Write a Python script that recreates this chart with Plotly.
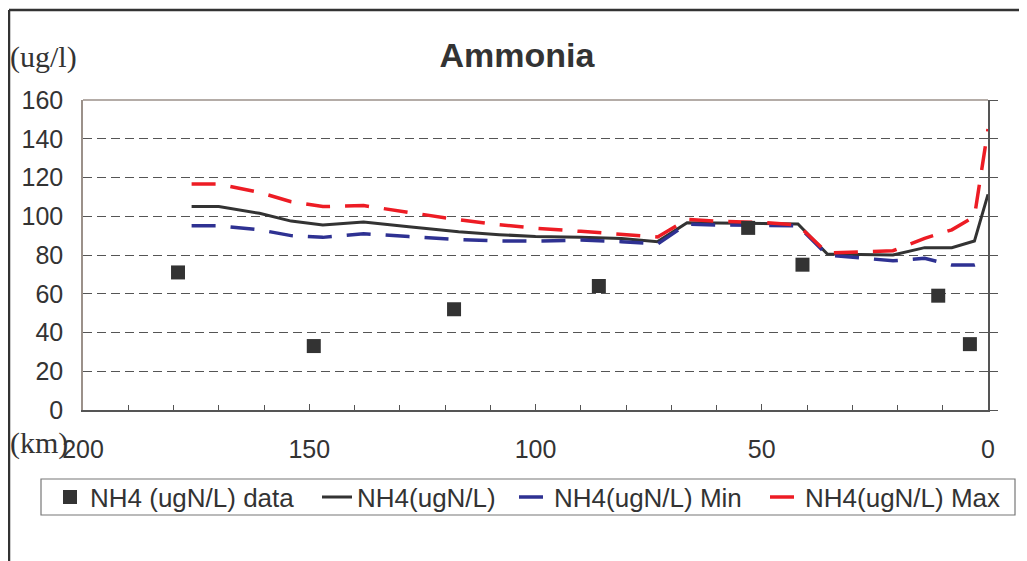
"""Ammonia longitudinal profile: measured NH4 vs model mean / min / max."""

import plotly.graph_objects as go

# distance from river mouth (km) and measured NH4 (ug/l)
km_data = [179, 149, 118, 86, 53, 41, 11, 4]
nh4_data = [71, 33, 52, 64, 94, 75, 59, 34]

# model output along the river
km_model = [176, 170, 161, 154, 147, 138, 128, 117, 108, 100, 90, 81, 73,
            66.5, 60, 50, 42, 35.5, 28, 21, 14, 8, 3, 0]
nh4_mean = [105, 105, 101.5, 97.5, 95.5, 97, 94.6, 92, 90.5, 89.5, 89.2, 88.5, 86.9,
            96.7, 96.5, 96.2, 96, 80.5, 80.2, 80, 83.8, 83.8, 87.2, 111.3]
nh4_min = [95.1, 95.1, 93, 90, 89.1, 91, 89.5, 88, 87.3, 87.2, 87.7, 86.9, 85.7,
           96, 95.5, 95.3, 95.1, 80, 78.3, 77, 78.3, 74.8, 74.8, 77]
nh4_max = [116.6, 116.6, 112.3, 107.5, 105, 105.5, 102, 98.2, 95.6, 93.8, 92.2, 90.6, 89.3,
           98.4, 97.5, 96.8, 95.5, 81, 81.5, 82.2, 88.6, 93, 99.8, 145]

# the page puts the figure 8px in from the top-left corner of the window
PAGE = 8
W, H = 1027 - PAGE, 561 - PAGE
L, R, T, B = 83 - PAGE, 39, 100 - PAGE, 151
PW, PH = W - L - R, H - T - B


def px_x(px):
    # window pixel -> paper x
    return (px - PAGE - L) / PW


def px_y(py):
    # window pixel -> paper y
    return (H + PAGE - B - py) / PH


TXT = "#333333"
SANS = "Liberation Sans, Arial, sans-serif"
SERIF = "Liberation Serif, Times New Roman, serif"

fig = go.Figure()
fig.add_trace(go.Scatter(
    x=km_data, y=nh4_data, mode="markers", name="NH4 (ugN/L) data",
    marker=dict(symbol="square", size=14, color="#333333"), yaxis="y2",
    legendwidth=222,
))
fig.add_trace(go.Scatter(
    x=km_model, y=nh4_mean, mode="lines", name="NH4(ugN/L)",
    line=dict(color="#333333", width=3), legendwidth=152,
))
fig.add_trace(go.Scatter(
    x=km_model, y=nh4_min, mode="lines", name="NH4(ugN/L) Min",
    line=dict(color="#2e3192", width=3.5, dash="24px,15px"), legendwidth=206,
))
fig.add_trace(go.Scatter(
    x=km_model, y=nh4_max, mode="lines", name="NH4(ugN/L) Max",
    line=dict(color="#ed1c24", width=3.5, dash="24px,15px"), legendwidth=195,
))

fig.update_layout(
    width=W, height=H,
    margin=dict(l=L, r=R, t=T, b=B),
    paper_bgcolor="white", plot_bgcolor="white",
    font=dict(family=SANS, color=TXT),
    title=dict(text="<b>Ammonia</b>", x=px_x(517), xref="paper", xanchor="center",
               y=1 - (55 - PAGE) / H, yref="container", yanchor="middle",
               font=dict(size=34, color=TXT, family=SANS)),
    xaxis=dict(
        range=[200, 0], dtick=50, showgrid=False, zeroline=False,
        showline=True, linecolor="#555555", linewidth=1.5,
        ticks="inside", ticklen=6, tickcolor="#555555",
        minor=dict(dtick=10, ticks="inside", ticklen=5, tickcolor="#555555", showgrid=False),
        tickfont=dict(size=25, color=TXT), ticklabelstandoff=16,
    ),
    yaxis=dict(
        range=[0, 160], dtick=20, zeroline=False,
        showgrid=True, gridcolor="#555555", gridwidth=1, griddash="9px,5px",
        showline=True, linecolor="#9b918a", linewidth=1.5, ticks="",
        tickfont=dict(size=25, color=TXT), ticklabelstandoff=13,
    ),
    yaxis2=dict(
        range=[0, 160], dtick=20, overlaying="y", side="right",
        showgrid=False, zeroline=False, showticklabels=False,
        showline=True, linecolor="#555555", linewidth=1.5,
        ticks="outside", ticklen=8, tickcolor="#555555",
    ),
    legend=dict(
        orientation="h", x=px_x(50), xanchor="left", y=px_y(497), yanchor="middle",
        borderwidth=0, bgcolor="rgba(0,0,0,0)",
        font=dict(size=26, color=TXT), itemwidth=30, tracegroupgap=0,
    ),
    showlegend=True,
)

# top edge of the plot area, legend box and the frame at left/top of the figure
fig.add_shape(type="line", xref="paper", yref="paper", x0=0, x1=1, y0=1, y1=1,
              line=dict(color="#9b918a", width=1.5))
fig.add_shape(type="rect", xref="paper", yref="paper", x0=px_x(41), x1=px_x(1015),
              y0=px_y(479), y1=px_y(515), line=dict(color="#777777", width=1.2))
fig.add_shape(type="line", xref="paper", yref="paper", x0=px_x(9), x1=px_x(9),
              y0=px_y(10), y1=px_y(561), line=dict(color="#333333", width=2.5))
fig.add_shape(type="line", xref="paper", yref="paper", x0=px_x(9), x1=px_x(1027),
              y0=px_y(10), y1=px_y(10), line=dict(color="#333333", width=2.5))

fig.add_annotation(text="(ug/l)", xref="paper", yref="paper", x=px_x(43), y=px_y(57),
                   xanchor="center", yanchor="middle", showarrow=False,
                   font=dict(family=SERIF, size=30, color=TXT))
fig.add_annotation(text="(km)", xref="paper", yref="paper", x=px_x(39), y=px_y(443),
                   xanchor="center", yanchor="middle", showarrow=False,
                   font=dict(family=SERIF, size=30, color=TXT))

fig.write_html("out.html")
